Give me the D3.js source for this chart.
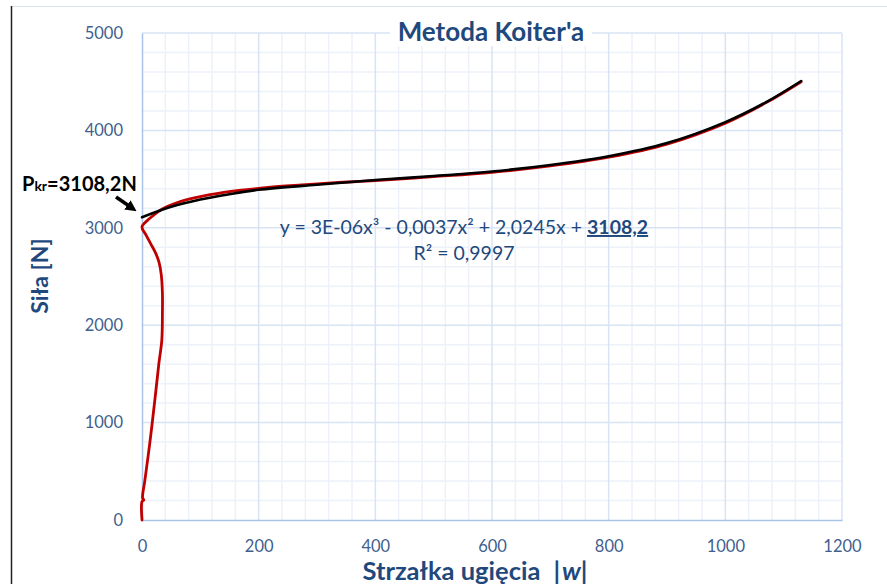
<!DOCTYPE html>
<meta charset="utf-8">
<style>
  body { margin: 0; background: #fff; }
  svg { font-family: Lato, "Open Sans", sans-serif; }
  .tick text { fill: #3f5f8f; font-size: 16.5px; }
</style>
<svg width="887" height="584"></svg>
<script src="https://cdn.jsdelivr.net/npm/d3@7"></script>
<script>
var measW = [0, 0, 3, 1, 5, 14, 22, 29, 34, 35, 35, 33, 29, 23, 15, 7, 0, 14, 34, 62, 102, 159, 216, 274, 331, 400, 500, 600, 700, 800, 900, 1000, 1070, 1130];
var measP = [0, 190, 205, 225, 410, 820, 1230, 1610, 1850, 2125, 2330, 2520, 2650, 2745, 2835, 2925, 3010, 3100, 3190, 3262, 3322, 3378, 3414, 3440, 3463, 3484, 3525, 3570, 3635, 3725, 3860, 4075, 4285, 4500];
// trend line (black)
var trendW = [0, 50, 100, 150, 200, 300, 400, 500, 600, 700, 800, 900, 1000, 1070, 1130];
var trendP = [3108, 3215, 3290, 3345, 3390, 3442, 3490, 3532, 3578, 3645, 3735, 3870, 4085, 4290, 4507];

var xTicks = [0, 200, 400, 600, 800, 1000, 1200];
var yTicks = [0, 1000, 2000, 3000, 4000, 5000];

var svg = d3.select("svg"),
    margin = {top: 33, right: 45, bottom: 64, left: 142},
    width = 700,
    height = 487;

var x = d3.scaleLinear().domain([0, 1200]).range([0, width]),
    y = d3.scaleLinear().domain([0, 5000]).range([height, 0]);

// chart frame
svg.append("line").attr("x1", 11).attr("x2", 887).attr("y1", 6.5).attr("y2", 6.5)
  .attr("stroke", "#dde3ea").attr("stroke-width", 1);
svg.append("line").attr("x1", 11.5).attr("x2", 11.5).attr("y1", 6).attr("y2", 584)
  .attr("stroke", "#222").attr("stroke-width", 1.5);

var g = svg.append("g").attr("transform", "translate(" + margin.left + "," + margin.top + ")");

// minor grid
g.append("g").selectAll("line").data(d3.range(40, 1200, 40).filter(function(d) { return d % 200; }))
  .enter().append("line")
  .attr("x1", function(d) { return x(d); }).attr("x2", function(d) { return x(d); })
  .attr("y1", 0).attr("y2", height)
  .attr("stroke", "#edf2fa").attr("stroke-width", 1.5);
g.append("g").selectAll("line").data(d3.range(200, 5000, 200).filter(function(d) { return d % 1000; }))
  .enter().append("line")
  .attr("y1", function(d) { return y(d); }).attr("y2", function(d) { return y(d); })
  .attr("x1", 0).attr("x2", width)
  .attr("stroke", "#edf2fa").attr("stroke-width", 1.5);

// major grid
g.append("g").selectAll("line").data(xTicks.slice(1))
  .enter().append("line")
  .attr("x1", function(d) { return x(d); }).attr("x2", function(d) { return x(d); })
  .attr("y1", 0).attr("y2", height)
  .attr("stroke", "#d8e3f4").attr("stroke-width", 1.5);
g.append("g").selectAll("line").data(yTicks.slice(1))
  .enter().append("line")
  .attr("y1", function(d) { return y(d); }).attr("y2", function(d) { return y(d); })
  .attr("x1", 0).attr("x2", width)
  .attr("stroke", "#d8e3f4").attr("stroke-width", 1.5);

// axes
var xAxis = g.append("g").attr("transform", "translate(0," + height + ")")
  .call(d3.axisBottom(x).tickValues(xTicks).tickFormat(d3.format("d")).tickSize(0).tickPadding(20));
var yAxis = g.append("g")
  .call(d3.axisLeft(y).tickValues(yTicks).tickFormat(d3.format("d")).tickSize(0).tickPadding(19));
xAxis.select(".domain").attr("stroke", "#a9c4ea").attr("stroke-width", 1.5);
yAxis.select(".domain").attr("stroke", "#a9c4ea").attr("stroke-width", 1.5);
xAxis.selectAll("text").attr("font-family", "Lato, sans-serif");
yAxis.selectAll("text").attr("font-family", "Lato, sans-serif");

var line = d3.line().curve(d3.curveCatmullRom.alpha(0.5));

// measured (red)
g.append("path")
  .datum(measW.map(function(d, i) { return [x(d), y(measP[i])]; }))
  .attr("d", line)
  .attr("fill", "none").attr("stroke", "#c00000").attr("stroke-width", 2.8)
  .attr("stroke-linejoin", "round").attr("stroke-linecap", "round");

// trend (black)
g.append("path")
  .datum(trendW.map(function(d, i) { return [x(d), y(trendP[i])]; }))
  .attr("d", line)
  .attr("fill", "none").attr("stroke", "#000").attr("stroke-width", 2.6)
  .attr("stroke-linecap", "round");

// title
svg.append("rect").attr("x", 390).attr("y", 16).attr("width", 202).attr("height", 30).attr("fill", "#fff");
svg.append("text").attr("x", 491).attr("y", 41).attr("text-anchor", "middle")
  .attr("font-size", 26).attr("font-weight", "bold").attr("fill", "#1f497d")
  .text("Metoda Koiter'a");

// axis titles
svg.append("text").attr("transform", "translate(48,276) rotate(-90)").attr("text-anchor", "middle")
  .attr("font-size", 23).attr("font-weight", "bold").attr("fill", "#1f497d")
  .text("Siła [N]");
var xt = svg.append("text").attr("x", 475).attr("y", 580).attr("text-anchor", "middle")
  .attr("font-size", 25.5).attr("font-weight", "bold").attr("fill", "#1f497d");
xt.append("tspan").text("Strzałka ugięcia");
xt.append("tspan").attr("dx", 13).text("|");
xt.append("tspan").attr("font-style", "italic").attr("dx", 2).text("w");
xt.append("tspan").text("|");

// equation
svg.append("text").attr("x", 464).attr("y", 234).attr("text-anchor", "middle")
  .attr("font-size", 19.5).attr("fill", "#1f497d")
  .call(function(t) {
    t.append("tspan").text("y = 3E-06x³ - 0,0037x² + 2,0245x + ");
    t.append("tspan").attr("font-weight", "bold").attr("text-decoration", "underline").text("3108,2");
  });
svg.append("text").attr("x", 464).attr("y", 260).attr("text-anchor", "middle")
  .attr("font-size", 19.5).attr("fill", "#1f497d")
  .text("R² = 0,9997");

// Pkr annotation
var pk = svg.append("text").attr("x", 22).attr("y", 191)
  .attr("font-size", 20).attr("font-weight", "bold").attr("fill", "#000");
pk.append("tspan").text("P");
pk.append("tspan").attr("font-size", 14).text("kr");
pk.append("tspan").text("=3108,2N");

svg.append("defs").append("marker").attr("id", "ah")
  .attr("viewBox", "0 0 10 10").attr("refX", 5).attr("refY", 5)
  .attr("markerWidth", 3.2).attr("markerHeight", 3.2).attr("orient", "auto")
  .append("path").attr("d", "M0,0L10,5L0,10z").attr("fill", "#000");
svg.append("line").attr("x1", 116).attr("y1", 197).attr("x2", 132).attr("y2", 208)
  .attr("stroke", "#000").attr("stroke-width", 3.5).attr("marker-end", "url(#ah)");
</script>
